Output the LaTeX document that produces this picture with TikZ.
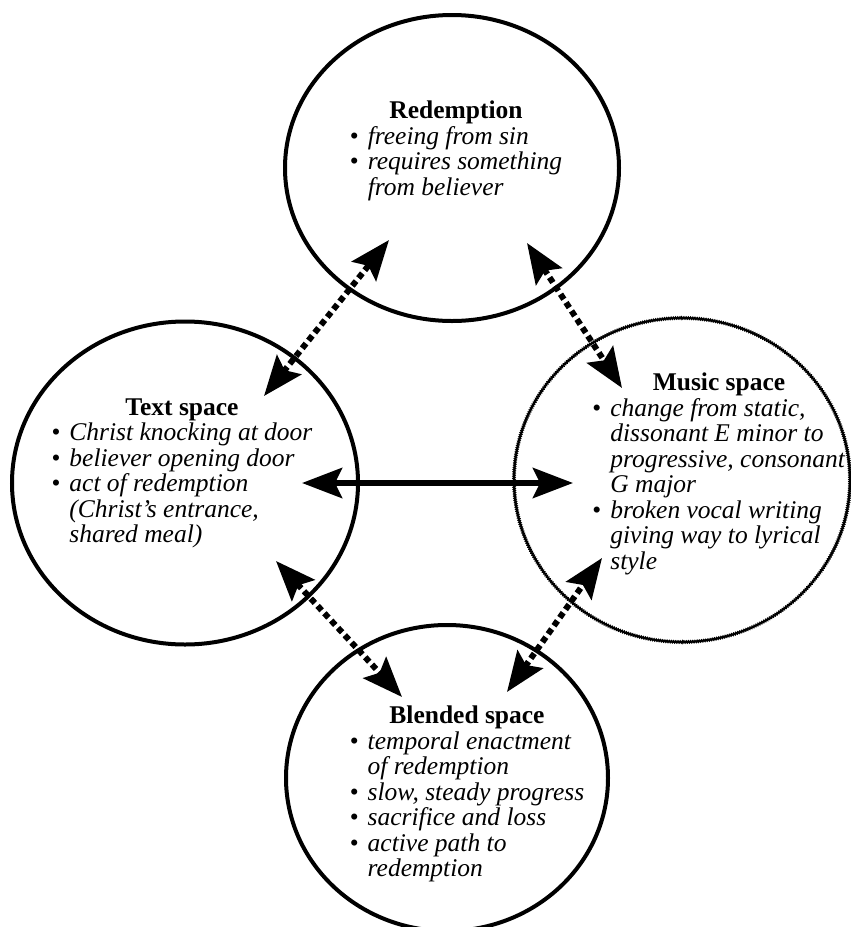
\documentclass[tikz,border=0pt]{standalone}
\usepackage{fontspec}
\setmainfont{Liberation Serif}
\usepackage{tikz}
\usetikzlibrary{shapes.geometric, arrows.meta, decorations.pathmorphing}

\begin{document}
\begin{tikzpicture}[
    x=1pt,y=-1pt,
    space/.style={draw, ellipse, line width=4pt, inner sep=0pt},
    musicspace/.style={draw, ellipse, line width=1.8pt, inner sep=0pt, decorate, decoration={zigzag, amplitude=0.7pt, segment length=2.2pt}},
    blurb/.style={inner sep=0pt, font=\fontsize{25.5}{25.5}\selectfont},
    link/.style={line width=6pt, {Stealth[length=40pt,width=30pt,inset=7pt]}-{Stealth[length=40pt,width=30pt,inset=7pt]}},
    dotlink/.style={line width=6pt, dash pattern=on 6pt off 4pt, {Stealth[length=40pt,width=31pt,inset=7pt]}-{Stealth[length=40pt,width=31pt,inset=7pt]}}
]
    \useasboundingbox (0,0) rectangle (851,927);

    % --- Spaces ---
    \node[space, minimum width=334pt, minimum height=306pt] (RED) at (452,168) {};
    \node[space, minimum width=346pt, minimum height=323pt] (TXT) at (185,483) {};
    \node[musicspace, minimum width=336pt, minimum height=324pt] (MUS) at (682,480) {};
    \node[space, minimum width=322pt, minimum height=306pt] (BLD) at (447,778) {};

    % --- Contents ---
    \node[blurb] (red_list) at (456,152) {\begin{tabular}{@{}c@{\hspace{9pt}}l@{}}
        \multicolumn{2}{c}{\textbf{Redemption}}\\
        \textbullet & \textit{freeing from sin}\\
        \textbullet & \textit{requires something}\\
         & \textit{from believer}
    \end{tabular}};
    \node[blurb] (txt_list) at (182,474) {\begin{tabular}{@{}c@{\hspace{9pt}}l@{}}
        \multicolumn{2}{c}{\textbf{Text space}}\\
        \textbullet & \textit{Christ knocking at door}\\
        \textbullet & \textit{believer opening door}\\
        \textbullet & \textit{act of redemption}\\
         & \textit{(Christ's entrance,}\\
         & \textit{shared meal)}
    \end{tabular}};
    \node[blurb] (mus_list) at (719,475) {\begin{tabular}{@{}c@{\hspace{9pt}}l@{}}
        \multicolumn{2}{c}{\textbf{Music space}}\\
        \textbullet & \textit{change from static,}\\
         & \textit{dissonant E minor to}\\
         & \textit{progressive, consonant}\\
         & \textit{G major}\\
        \textbullet & \textit{broken vocal writing}\\
         & \textit{giving way to lyrical}\\
         & \textit{style}
    \end{tabular}};
    \node[blurb] (bld_list) at (467,795) {\begin{tabular}{@{}c@{\hspace{9pt}}l@{}}
        \multicolumn{2}{c}{\textbf{Blended space}}\\
        \textbullet & \textit{temporal enactment}\\
         & \textit{of redemption}\\
        \textbullet & \textit{slow, steady progress}\\
        \textbullet & \textit{sacrifice and loss}\\
        \textbullet & \textit{active path to}\\
         & \textit{redemption}
    \end{tabular}};

    % --- Arrow ends ---
    \coordinate (red_t) at (389,240);
    \coordinate (txt_r) at (264,396);
    \coordinate (red_m) at (527,243);
    \coordinate (mus_r) at (622,388);
    \coordinate (txt_m) at (302,483);
    \coordinate (mus_t) at (573,483);
    \coordinate (txt_b) at (276,561);
    \coordinate (bld_t) at (402,697);
    \coordinate (mus_b) at (602,558);
    \coordinate (bld_m) at (507,692);

    % --- Mappings ---
    \draw[dotlink] (txt_r) -- (red_t);
    \draw[dotlink] (red_m) -- (mus_r);
    \draw[link] (txt_m) -- (mus_t);
    \draw[dotlink] (txt_b) -- (bld_t);
    \draw[dotlink] (bld_m) -- (mus_b);

\end{tikzpicture}
\end{document}
